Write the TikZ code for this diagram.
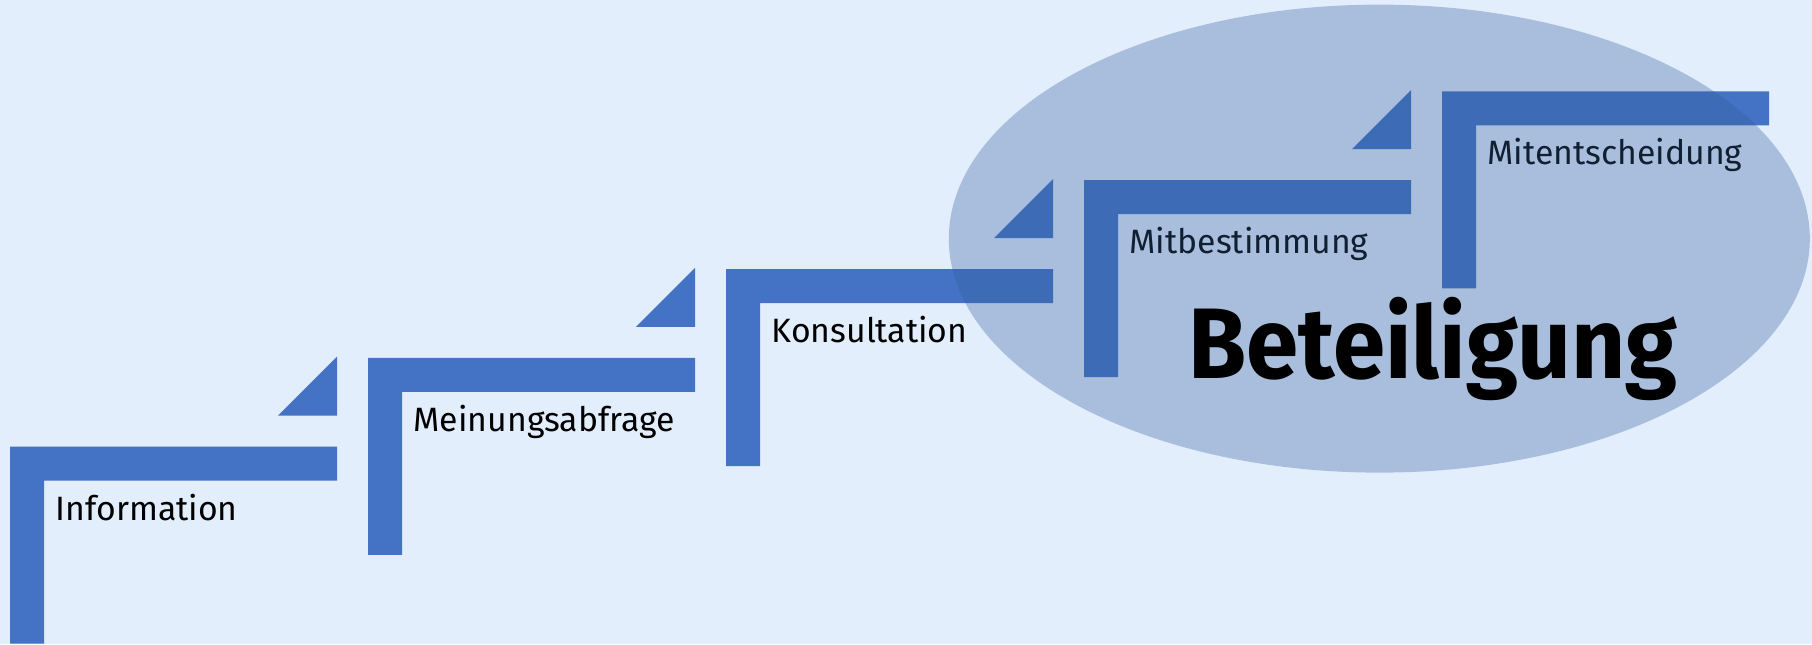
\documentclass[tikz,border=0pt]{standalone}
\usepackage{fontspec}
\setmainfont{Fira Sans}
\newfontfamily\headfont[FakeStretch=0.94]{Fira Sans}
\usepackage{xcolor}
\definecolor{stepblue}{HTML}{4472C4}
\definecolor{paleblue}{HTML}{E3EEFD}
\definecolor{ovalblue}{HTML}{335F99}
\begin{document}
\begin{tikzpicture}[x=0.01cm, y=-0.01cm,
    steplabel/.style={anchor=base west, inner sep=0pt, font=\fontsize{9.6}{11}\selectfont},
    bigword/.style={anchor=base, inner sep=0pt, font=\headfont\bfseries\fontsize{28.5}{31}\selectfont}]
      \fill[paleblue] (0,0) rectangle (1812,644);
      \useasboundingbox (0,0) rectangle (1812,644);
      \foreach \i/\txt in {0/Information, 1/Meinungsabfrage, 2/Konsultation, 3/Mitbestimmung, 4/Mitentscheidung}{
        \coordinate (s\i) at (10+358*\i, 446.7-88.85*\i);
        \fill[stepblue] (s\i) ++(0,197) -- ++(0,-197) -- ++(327,0) -- ++(0,34) -- ++(-293,0) -- ++(0,163) -- cycle;
        \node[steplabel] (l\i) at ([shift={(45,73.5)}]s\i) {\txt};
      }
      \foreach \i in {0,...,3}{
        \fill[stepblue] ([shift={(268,-31)}]s\i) -- ++(59,0) -- ++(0,-59) -- cycle;
      }
      \fill[ovalblue, fill opacity=0.33] (1379.3,238.6) ellipse [x radius=430.5, y radius=234];
      \node[bigword] (beteiligung) at (1433,378.3) {Beteiligung};
\end{tikzpicture}
\end{document}
